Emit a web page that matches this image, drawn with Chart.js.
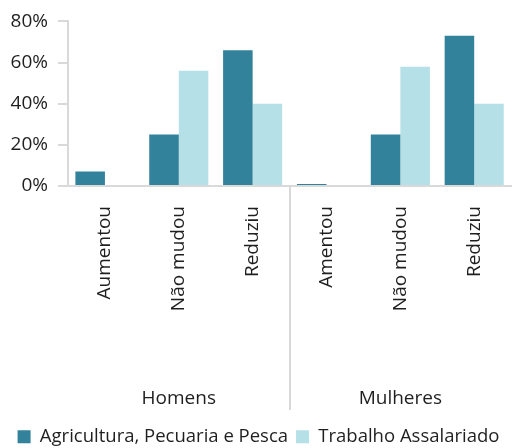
<!DOCTYPE html>
<html>
<head>
<meta charset="utf-8">
<script src="https://cdn.jsdelivr.net/npm/chart.js@4"></script>
<style>
  html, body { margin: 0; padding: 0; background: #fff; }
  #wrap { width: 517px; height: 448px; }
</style>
</head>
<body>
<div id="wrap"><canvas id="chart"></canvas></div>
<script>
// answers per group (Homens first, then Mulheres)
const categories = ["Aumentou", "Não mudou", "Reduziu", "Amentou", "Não mudou", "Reduziu"];
const groups = ["Homens", "Mulheres"];
const agricultura = [7, 25, 66, 1, 25, 73];
const assalariado = [0, 56, 40, 0, 58, 40];
const yTicks = [0, 20, 40, 60, 80];

const axisGrey = "#d9d9d9";
const textColor = "#1f1f1f";
const baseFont = { family: "'Open Sans', sans-serif", size: 19 };
const legendFont = { family: "'Open Sans', sans-serif", size: 18.5 };

// vertical line between the two groups, running down through the labels
const groupDivider = {
    id: "groupDivider",
    afterDraw(chart) {
        const x = chart.scales.x;
        const perGroup = categories.length / groups.length;
        const px = Math.round(x.getPixelForValue(perGroup - 0.5));
        const ctx = chart.ctx;
        ctx.save();
        ctx.strokeStyle = axisGrey;
        ctx.lineWidth = 2;
        ctx.beginPath();
        ctx.moveTo(px, chart.chartArea.bottom);
        ctx.lineTo(px, chart.scales.x2.top + 26);
        ctx.stroke();
        ctx.restore();
    }
};

const ctx = document.getElementById("chart").getContext("2d");
new Chart(ctx, {
    type: "bar",
    data: {
        labels: categories,
        datasets: [
            {
                label: "Agricultura, Pecuaria e Pesca",
                data: agricultura,
                backgroundColor: "#31829a",
                borderWidth: 0
            },
            {
                label: "Trabalho Assalariado",
                data: assalariado,
                backgroundColor: "#b5e0e8",
                borderWidth: 0
            }
        ]
    },
    options: {
        responsive: true,
        maintainAspectRatio: false,
        animation: false,
        layout: { padding: { top: 16, right: 0, left: 0, bottom: 0 } },
        datasets: {
            bar: { barPercentage: 1, categoryPercentage: 0.8 }
        },
        scales: {
            x: {
                type: "category",
                position: "bottom",
                grid: { display: false, drawTicks: false },
                border: { color: axisGrey, width: 2 },
                ticks: {
                    color: textColor,
                    font: baseFont,
                    minRotation: 90,
                    maxRotation: 90,
                    padding: 20,
                    autoSkip: false
                },
                afterFit(scale) { scale.height = 198; }
            },
            x2: {
                type: "category",
                position: "bottom",
                labels: groups,
                offset: true,
                grid: { display: false, drawTicks: false },
                border: { display: false },
                ticks: { color: textColor, font: baseFont, padding: 3 },
                afterFit(scale) { scale.height = 35.5; }
            },
            y: {
                min: 0,
                max: 80,
                afterBuildTicks(scale) {
                    scale.ticks = yTicks.map(v => ({ value: v }));
                },
                grid: {
                    drawOnChartArea: false,
                    drawTicks: true,
                    tickLength: 10,
                    color: axisGrey,
                    lineWidth: 2
                },
                border: { color: axisGrey, width: 2 },
                ticks: {
                    color: textColor,
                    font: baseFont,
                    padding: 10,
                    callback: v => v + "%"
                },
                afterFit(scale) { scale.width = 68; }
            }
        },
        plugins: {
            legend: {
                position: "bottom",
                maxHeight: 28.5,
                labels: {
                    color: textColor,
                    font: legendFont,
                    boxWidth: 13,
                    boxHeight: 13,
                    padding: 8
                }
            },
            tooltip: { enabled: false }
        }
    },
    plugins: [groupDivider]
});
</script>
</body>
</html>
